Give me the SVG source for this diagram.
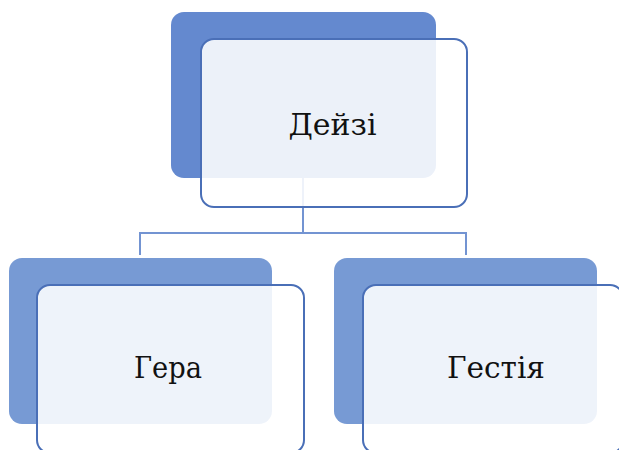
<svg xmlns="http://www.w3.org/2000/svg" width="619" height="450" viewBox="0 0 619 450">
<style>
.back-top{fill:#6489cf;}
.back{fill:#779ad4;}
.front{fill:#ffffff;fill-opacity:0.88;stroke:#4a6fb7;stroke-width:2;}
.conn{fill:none;stroke:#7394d2;stroke-width:2;}
.lbl{font-family:"DejaVu Serif","Liberation Serif",serif;font-size:30px;fill:#111111;text-anchor:middle;}
</style>
<rect width="619" height="450" fill="#ffffff"/>
<g id="connectors">
<path class="conn" d="M303,178 V233 M140,255 V233 H466 V255"/>
</g>
<g id="node-deizi">
<rect class="back-top" x="171" y="12" width="265" height="166" rx="13"/>
<rect class="front" x="201" y="39" width="266" height="168" rx="13"/>
<text class="lbl" x="332.5" y="135" textLength="88" lengthAdjust="spacingAndGlyphs">Дейзі</text>
</g>
<g id="node-hera">
<rect class="back" x="9" y="258" width="263" height="166" rx="13"/>
<rect class="front" x="37" y="285" width="267" height="168" rx="13"/>
<text class="lbl" x="168" y="378" textLength="68" lengthAdjust="spacingAndGlyphs">Гера</text>
</g>
<g id="node-hestia">
<rect class="back" x="334" y="258" width="263" height="166" rx="13"/>
<rect class="front" x="363" y="285" width="260" height="168" rx="13"/>
<text class="lbl" x="496" y="378" textLength="98" lengthAdjust="spacingAndGlyphs">Гестія</text>
</g>
</svg>
